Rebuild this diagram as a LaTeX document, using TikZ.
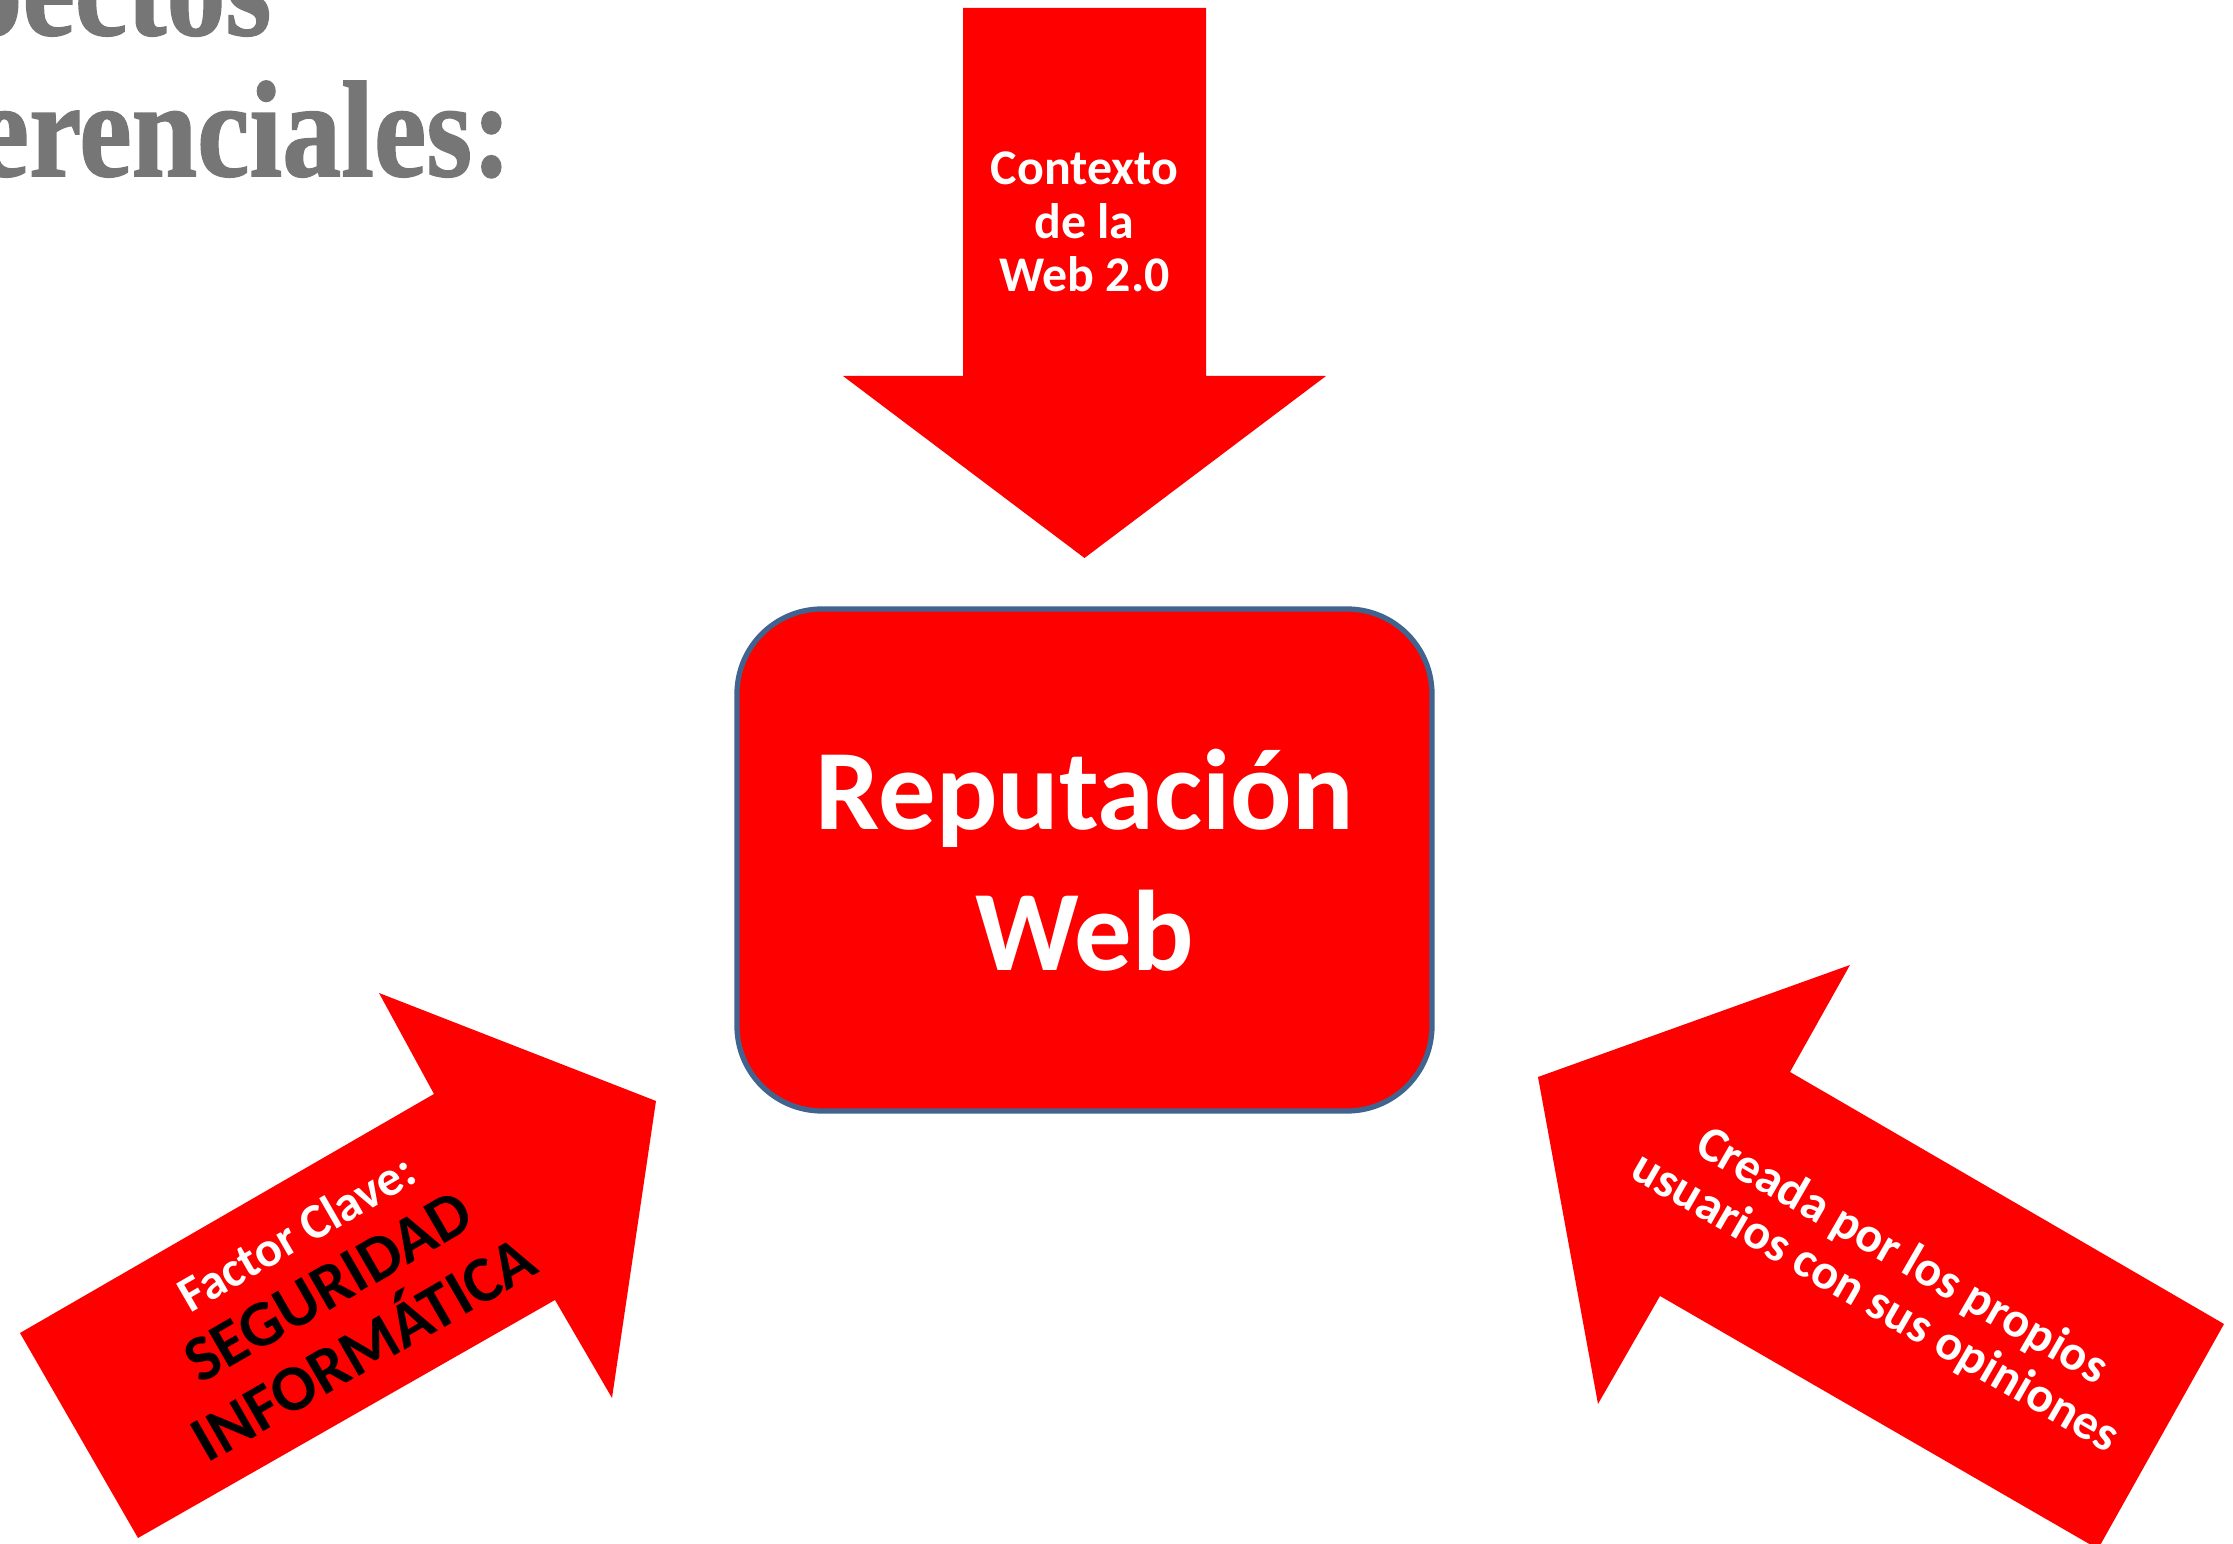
\documentclass[tikz,border=0pt]{standalone}
\usepackage{fontspec}
\setmainfont{Carlito}
\newfontfamily\titlefont[BoldFeatures={FakeBold=1.2}]{Liberation Serif}
\definecolor{arrowred}{HTML}{FF0000}
\definecolor{boxedge}{HTML}{41648F}
\definecolor{titlegray}{HTML}{767676}
\begin{document}
\begin{tikzpicture}[
    blockarrow/.style={fill=arrowred},
    titletext/.style={text=titlegray, xscale=0.86, font=\titlefont\bfseries\fontsize{39}{40}\selectfont},
    whitelbl/.style={text=white, align=center, font=\bfseries\fontsize{14.2}{15.2}\selectfont},
    blacklbl/.style={text=black, font=\bfseries\fontsize{18.5}{20}\selectfont},
    repbox/.style={draw=boxedge, line width=1.5pt, fill=arrowred, rounded corners=0.85cm,
        minimum width=6.95cm, minimum height=5.02cm, align=center, text=white,
        font=\bfseries\fontsize{32.6}{40}\selectfont}
]
\useasboundingbox (0,0) rectangle (22.33,15.44);
\clip (0,0) rectangle (22.33,15.44);

% title, cut at the left edge
\node[titletext, anchor=base east] (tl1) at (2.82,15.09) {Aspectos};
\node[titletext, anchor=base east] (tl2) at (5.22,13.68) {Diferenciales:};

% arrow from the top
\fill[blockarrow] (9.63,15.36) -- (12.06,15.36) -- (12.06,11.68) -- (13.26,11.68)
    -- (10.845,9.86) -- (8.43,11.68) -- (9.63,11.68) -- cycle;
\node[whitelbl] (ctx) at (10.845,13.22) {Contexto\\de la\\Web 2.0};

% arrow from the lower left
\fill[blockarrow] (0.20,2.11) -- (4.34,4.50) -- (3.79,5.51) -- (6.56,4.43)
    -- (6.12,1.46) -- (5.55,2.44) -- (1.38,0.06) -- cycle;
\begin{scope}[shift={(3.28,2.57)}, rotate=30]
    \node[whitelbl, anchor=base, transform shape] (fct) at (0,0.46) {Factor Clave:};
    \node[blacklbl, anchor=base, transform shape] (seg) at (0,-0.21) {SEGURIDAD};
    \node[blacklbl, anchor=base, transform shape] (inf) at (0,-0.93) {INFORMÁTICA};
\end{scope}

% arrow from the lower right
\fill[blockarrow] (18.50,5.79) -- (17.90,4.72) -- (22.24,2.20) -- (20.98,-0.05)
    -- (16.60,2.48) -- (15.98,1.40) -- (15.38,4.67) -- cycle;
\node[whitelbl, rotate=-30] (crd) at (18.88,2.64) {Creada por los propios\\usuarios con sus opiniones};

% centre box
\node[repbox] (rep) at (10.845,6.84) {Reputación\\Web};
\end{tikzpicture}
\end{document}
